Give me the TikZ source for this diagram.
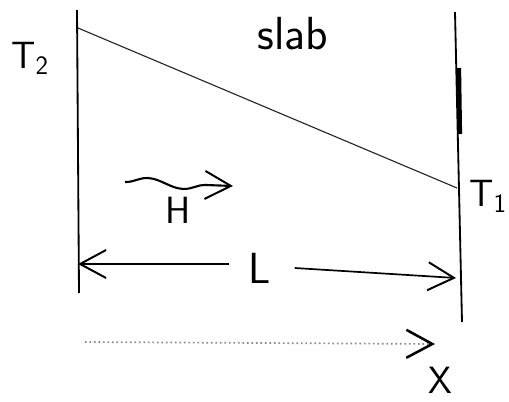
\documentclass[tikz,border=0pt]{standalone}
\usepackage{tikz}
\usetikzlibrary{arrows.meta, positioning, decorations.pathmorphing}

\begin{document}
\begin{tikzpicture}[
    x=0.025cm, y=-0.025cm,
    font=\sffamily\fontsize{27}{30}\selectfont,
    wall/.style={line width=1.3pt, draw=black},
    prof/.style={line width=0.8pt, draw=black!85},
    barb/.style={-{Straight Barb[length=6.5mm, width=7mm, line width=1.4pt]}},
    dimarr/.style={barb, line width=1.2pt},
    heat/.style={barb, line width=1.5pt, decorate,
                 decoration={snake, amplitude=1.2mm, segment length=18mm, post length=6mm}},
    axisarr/.style={line width=1.2pt, dotted, draw=black!45,
                    -{Straight Barb[length=6.5mm, width=7mm, line width=1.8pt, black]}},
    lbl/.style={inner sep=1pt, text=black},
]
\useasboundingbox (0,0) rectangle (509,402);

% --- walls of the slab ---
\coordinate (lwtop) at (77,10);
\coordinate (lwbot) at (79,293);
\coordinate (rwtop) at (455,12);
\coordinate (rwbot) at (462,322);
\draw[wall] (lwtop) -- (lwbot);
\draw[wall] (rwtop) -- (rwbot);
\draw[line width=3pt] (459,68) -- (460,134);

% --- labels ---
\node[lbl] (t2)   at (30,58)  {T\textsubscript{2}};
\node[lbl, font=\sffamily\fontsize{33}{36}\selectfont] (slab) at (293,34) {slab};
\node[lbl] (t1)   at (488,196) {T\textsubscript{1}};
\node[lbl] (h)    at (178,210) {H};
\node[lbl, font=\sffamily\fontsize{31}{34}\selectfont] (len) at (260,268) {L};
\node[lbl] (xlbl) at (440,380) {X};

% --- temperature profile ---
\coordinate (hot)  at (78,28);
\coordinate (cold) at (457,188);
\draw[prof] (hot) -- (cold);

% --- heat flow ---
\coordinate (hs) at (125,182);
\coordinate (he) at (233,186);
\draw[heat] (hs) -- (he);

% --- thickness L ---
\coordinate (dl) at (78,264);
\coordinate (dr) at (456,278);
\draw[dimarr] (len.west) ++(-18,-4) -- (dl);
\draw[dimarr] (len.east) ++(22,0) -- (dr);

% --- x axis ---
\coordinate (xs) at (85,342);
\coordinate (xe) at (435,344);
\draw[axisarr] (xs) -- (xe);
\end{tikzpicture}
\end{document}
